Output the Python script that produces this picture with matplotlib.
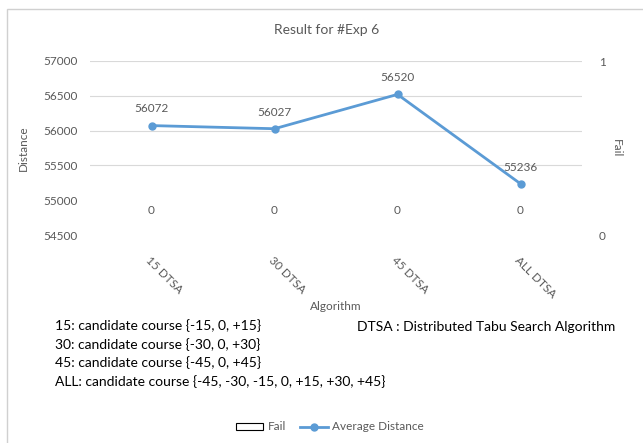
import matplotlib
matplotlib.use("Agg")
import matplotlib.pyplot as plt
from matplotlib.patches import Rectangle
from matplotlib.lines import Line2D
from matplotlib.patches import Patch

plt.rcParams['font.family'] = ['Lato', 'DejaVu Sans']

categories = ["15 DTSA", "30 DTSA", "45 DTSA", "ALL DTSA"]
avg_distance = [56072, 56027, 56520, 55236]
fail = [0, 0, 0, 0]
dist_ticks = [54500, 55000, 55500, 56000, 56500, 57000]
notes = [
    "15: candidate course {-15, 0, +15}",
    "30: candidate course {-30, 0, +30}",
    "45: candidate course {-45, 0, +45}",
    "ALL: candidate course {-45, -30, -15, 0, +15, +30, +45}",
]
abbrev = "DTSA : Distributed Tabu Search Algorithm"

W, H = 643, 443
fig = plt.figure(figsize=(W / 100, H / 100), dpi=100)

# outer chart frame
fig.add_artist(Rectangle((7 / W, -0.05), 1.2, 1 - 9 / H + 0.05, transform=fig.transFigure,
                         fill=False, edgecolor="#d0d0d0", linewidth=1))

ax = fig.add_axes([90 / W, 1 - 235 / H, (582 - 90) / W, (235 - 61) / H])
ax2 = ax.twinx()
ax.set_zorder(2)
ax.patch.set_visible(False)

grey = "#595959"
blue = "#5B9BD5"
x = list(range(len(categories)))

# Fail bars on the secondary axis
ax2.bar(x, fail, width=0.5, facecolor="white", edgecolor="black", linewidth=0)
ax2.set_ylim(0, 1)
ax2.set_yticks([0, 1])
ax2.set_yticklabels(["0", "1"])
for xi, v in zip(x, fail):
    ax2.annotate(str(v), (xi, v), xytext=(0, 14), textcoords="offset points",
                 ha="center", va="bottom", fontsize=8.5, color=grey)

# Average distance line
ax.plot(x, avg_distance, color=blue, linewidth=2, marker="o", markersize=5)
for xi, v in zip(x, avg_distance):
    ax.annotate(str(v), (xi, v), xytext=(0, 8), textcoords="offset points",
                ha="center", va="bottom", fontsize=8.5, color=grey)

ax.set_xlim(-0.5, len(categories) - 0.5)
ax.set_ylim(dist_ticks[0], dist_ticks[-1])
ax.set_yticks(dist_ticks)
ax.grid(axis="y", color="#d9d9d9", linewidth=0.8)
ax.set_axisbelow(True)
for gl in ax.yaxis.get_gridlines()[:2]:
    gl.set_visible(False)
ax.set_xticks(x)
ax.set_xticklabels(categories, rotation=-45, ha="left", rotation_mode="anchor",
                   fontsize=8.5, color=grey)

for a in (ax, ax2):
    for s in a.spines.values():
        s.set_visible(False)
    a.tick_params(length=0, labelsize=8.5, labelcolor=grey)
ax.tick_params(axis="y", pad=9)
ax2.tick_params(axis="y", pad=12)
ax.tick_params(axis="x", pad=14)

ax.set_ylabel("Distance", fontsize=8.5, color=grey, labelpad=10)
ax2.set_ylabel("Fail", fontsize=8.5, color=grey, rotation=270, labelpad=12)

fig.text(327 / W, 1 - 30 / H, "Result for #Exp 6", ha="center", va="center",
         fontsize=10, color=grey)
fig.text(336 / W, 1 - 306 / H, "Algorithm", ha="center", va="center",
         fontsize=8.5, color=grey)

for i, line in enumerate(notes):
    fig.text(55 / W, 1 - (326 + i * 18.5) / H, line, ha="left", va="center",
             fontsize=10, color="black")
fig.text(357 / W, 1 - 327 / H, abbrev, ha="left", va="center",
         fontsize=10, color="black")

handles = [Patch(facecolor="white", edgecolor="black", linewidth=0.8, label="Fail"),
           Line2D([0], [0], color=blue, linewidth=2, marker="o", markersize=5,
                  label="Average Distance")]
leg = fig.legend(handles=handles, loc="center", bbox_to_anchor=(330 / W, 1 - 427 / H),
                 ncol=2, frameon=False, fontsize=8.5, handlelength=2.3,
                 handleheight=0.6, columnspacing=1.2, handletextpad=0.4)
for t in leg.get_texts():
    t.set_color(grey)

fig.savefig("out.png", dpi=100)
